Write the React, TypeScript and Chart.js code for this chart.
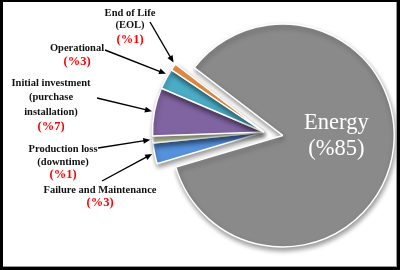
import React, { useEffect, useRef } from 'react';
import { Chart, registerables } from 'chart.js';

Chart.register(...registerables);

// ---- data ----
const categories = [
  'Failure and Maintenance',
  'Production loss (downtime)',
  'Initial investment (purchase installation)',
  'Operational',
  'End of Life (EOL)',
  'Energy',
];
const shares = [3, 1, 7, 3, 1, 85];
const percentLabels = ['(%3)', '(%1)', '(%7)', '(%3)', '(%1)', '(%85)'];
const labelLines = [
  ['Failure and Maintenance'],
  ['Production loss', '(downtime)'],
  ['Initial investment', '(purchase', 'installation)'],
  ['Operational'],
  ['End of Life', '(EOL)'],
  ['Energy'],
];

// ---- styles / layout ----
const sliceColors = ['#5591dd', '#d7e4bd', '#8064a2', '#4bacc6', '#f79646', '#8a8a8a'];
const explode = [0, 0, 0, 0, 0, 19];
const calloutLayout = [
  { x: 100, y: 190, lh: 13, pg: 13, sx: 102, sy: 181, f: 0.5 },
  { x: 63, y: 149, lh: 13, pg: 13, sx: 98, sy: 148, f: 0.5 },
  { x: 51, y: 83, lh: 14.5, pg: 14.5, sx: 97, sy: 98, f: 0.5 },
  { x: 77, y: 48, lh: 14, pg: 14, sx: 105, sy: 50, f: 0.7 },
  { x: 130, y: 13, lh: 12, pg: 15, sx: 150, sy: 22, f: 1.0 },
  null,
];

const SERIF = '"Liberation Serif", "DejaVu Serif", serif';

function drawArrow(ctx: CanvasRenderingContext2D, x1: number, y1: number, x2: number, y2: number) {
  const a = Math.atan2(y2 - y1, x2 - x1);
  const hl = 7;
  const hw = 3;
  const c = Math.cos(a);
  const s = Math.sin(a);
  ctx.beginPath();
  ctx.moveTo(x1, y1);
  ctx.lineTo(x2 - c * hl * 0.8, y2 - s * hl * 0.8);
  ctx.stroke();
  ctx.beginPath();
  ctx.moveTo(x2, y2);
  ctx.lineTo(x2 - hl * c + hw * s, y2 - hl * s - hw * c);
  ctx.lineTo(x2 - hl * c - hw * s, y2 - hl * s + hw * c);
  ctx.closePath();
  ctx.fill();
}

const explodePlugin = {
  id: 'explodeDraw',
  beforeDatasetDraw(chart: any, args: any) {
    const ctx: CanvasRenderingContext2D = chart.ctx;
    const meta = args.meta;
    ctx.save();
    ctx.shadowColor = 'rgba(0,0,0,0.4)';
    ctx.shadowBlur = 5;
    ctx.shadowOffsetX = 1;
    ctx.shadowOffsetY = 3;
    meta.data.forEach((arc: any, i: number) => {
      const off = explode[i] || 0;
      const mid = (arc.startAngle + arc.endAngle) / 2;
      ctx.save();
      ctx.translate(Math.cos(mid) * off, Math.sin(mid) * off);
      arc.draw(ctx, chart.chartArea);
      ctx.restore();
    });
    ctx.restore();
    return false;
  },
  afterDraw(chart: any) {
    const ctx: CanvasRenderingContext2D = chart.ctx;
    const meta = chart.getDatasetMeta(0);
    ctx.save();
    ctx.textAlign = 'center';
    ctx.textBaseline = 'middle';
    meta.data.forEach((arc: any, i: number) => {
      const off = explode[i] || 0;
      const mid = (arc.startAngle + arc.endAngle) / 2;
      const cx = arc.x + Math.cos(mid) * off;
      const cy = arc.y + Math.sin(mid) * off;
      const lay = calloutLayout[i];
      if (!lay) {
        // inside label (Energy)
        const tx = cx + Math.cos(mid) * arc.outerRadius * 0.49;
        const ty = cy + Math.sin(mid) * arc.outerRadius * 0.49;
        ctx.fillStyle = '#ffffff';
        ctx.font = `22.5px ${SERIF}`;
        ctx.fillText(labelLines[i][0], tx, ty - 22);
        ctx.fillText(percentLabels[i], tx, ty + 4);
        return;
      }
      ctx.fillStyle = '#111111';
      ctx.font = `bold 10.5px ${SERIF}`;
      labelLines[i].forEach((line, k) => {
        ctx.fillText(line, lay.x, lay.y + k * lay.lh);
      });
      const py = lay.y + (labelLines[i].length - 1) * lay.lh + lay.pg;
      ctx.fillStyle = '#ff0000';
      ctx.font = `bold 12.5px ${SERIF}`;
      ctx.fillText(percentLabels[i], lay.x, py);
      // arrow to slice
      const ang = arc.startAngle + (arc.endAngle - arc.startAngle) * lay.f;
      const r = arc.outerRadius + 2.5;
      const tx = cx + Math.cos(ang) * r;
      const ty = cy + Math.sin(ang) * r;
      ctx.strokeStyle = '#000000';
      ctx.fillStyle = '#000000';
      ctx.lineWidth = 1.4;
      drawArrow(ctx, lay.sx, lay.sy, tx, ty);
    });
    // frame
    ctx.fillStyle = '#000000';
    ctx.fillRect(0, 0, 400, 2);
    ctx.fillRect(0, 0, 3, 270);
    ctx.fillRect(397, 0, 3, 270);
    ctx.fillRect(0, 267, 400, 3);
    ctx.fillStyle = '#9a9a9a';
    ctx.fillRect(396, 2, 1, 265);
    ctx.fillRect(3, 266, 394, 1);
    ctx.restore();
  },
};

export default function App() {
  const ref = useRef<HTMLCanvasElement | null>(null);
  useEffect(() => {
    if (!ref.current) return;
    const chart = new Chart(ref.current, {
      type: 'pie',
      data: {
        labels: categories,
        datasets: [
          {
            data: shares,
            backgroundColor: sliceColors,
            borderColor: '#ffffff',
            borderWidth: 1.5,
            hoverOffset: 0,
            offset: 0,
          },
        ],
      },
      options: {
        responsive: false,
        animation: false,
        rotation: 253.5,
        layout: { padding: { left: 132, right: 4, top: 19.75, bottom: 25.75 } },
        plugins: {
          legend: { display: false },
          tooltip: { enabled: false },
          title: { display: false },
        },
        events: [],
      },
      plugins: [explodePlugin],
    });
    return () => chart.destroy();
  }, []);
  return (
    <div style={{ position: 'absolute', left: 0, top: 0, width: 400, height: 270, background: '#ffffff' }}>
      <canvas ref={ref} width={400} height={270} style={{ display: 'block', width: 400, height: 270 }} />
    </div>
  );
}
